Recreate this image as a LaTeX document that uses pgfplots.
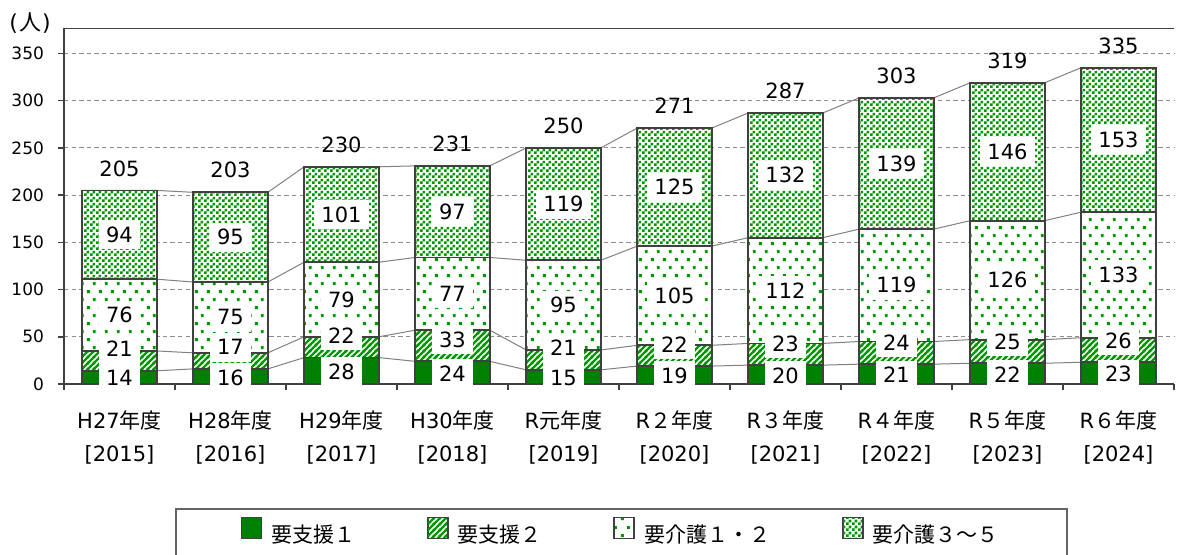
\documentclass[border=0pt]{standalone}
\usepackage{fontspec}
\setmainfont{DejaVu Sans}
\newfontfamily\jp{Noto Sans CJK JP}
\usepackage{pgfplots}
\pgfplotsset{compat=1.18}
\usetikzlibrary{patterns.meta}

\definecolor{gsolid}{RGB}{0,128,0}
\definecolor{gpat}{RGB}{0,150,0}
\definecolor{edge}{RGB}{64,64,64}
\definecolor{gridc}{RGB}{140,140,140}
\definecolor{conn}{RGB}{128,128,128}
\definecolor{legc}{RGB}{100,100,100}

\pgfdeclarepattern{
  name=chk, type=uncolored,
  bottom left={\pgfpoint{0pt}{0pt}}, top right={\pgfpoint{2.8pt}{2.8pt}},
  tile size={\pgfpoint{2.8pt}{2.8pt}},
  code={
    \pgfpathrectangle{\pgfpoint{0pt}{0pt}}{\pgfpoint{1.4pt}{1.4pt}}
    \pgfpathrectangle{\pgfpoint{1.4pt}{1.4pt}}{\pgfpoint{1.4pt}{1.4pt}}
    \pgfusepath{fill}
  }
}
\pgfdeclarepattern{
  name=dts, type=uncolored,
  bottom left={\pgfpoint{0pt}{0pt}}, top right={\pgfpoint{6.2pt}{8.2pt}},
  tile size={\pgfpoint{6.2pt}{8.2pt}},
  code={
    \pgfpathrectangle{\pgfpoint{0.5pt}{0.5pt}}{\pgfpoint{1.5pt}{1.5pt}}
    \pgfpathrectangle{\pgfpoint{3.6pt}{4.6pt}}{\pgfpoint{1.5pt}{1.5pt}}
    \pgfusepath{fill}
  }
}
\pgfdeclarepattern{
  name=hat, type=uncolored,
  bottom left={\pgfpoint{0pt}{0pt}}, top right={\pgfpoint{3.2pt}{3.2pt}},
  tile size={\pgfpoint{3.2pt}{3.2pt}},
  code={
    \pgfsetlinewidth{1.3pt}
    \pgfpathmoveto{\pgfpoint{-1pt}{-1pt}}\pgfpathlineto{\pgfpoint{4.2pt}{4.2pt}}
    \pgfpathmoveto{\pgfpoint{-1pt}{2.2pt}}\pgfpathlineto{\pgfpoint{1pt}{4.2pt}}
    \pgfpathmoveto{\pgfpoint{2.2pt}{-1pt}}\pgfpathlineto{\pgfpoint{4.2pt}{1pt}}
    \pgfusepath{stroke}
  }
}

\pgfplotsset{base/.style={width=555pt,height=178pt,scale only axis,
  at={(32pt,85pt)},anchor=south west,xmin=-0.5,xmax=9.5,ymin=0,ymax=377},
  lab/.style={every node near coord/.append style={anchor=center,fill=white,inner xsep=3.6pt,inner ysep=0pt,minimum height=14.5pt,font=\fontsize{10.5}{12}\selectfont,text=black}}}

\begin{document}
\begin{tikzpicture}
\useasboundingbox (0,0) rectangle (588.5pt,277pt);
% background: grid, boundary ticks, connector lines
\begin{axis}[base,
  axis x line*=bottom, axis y line*=left, axis line style={draw=none},
  tick pos=left, tick align=outside, major tick length=3pt,
  xtick={-0.5,0.5,...,9.5}, xticklabels={},
  ytick={50,100,...,350}, yticklabels={}, ytick style={draw=none},
  xtick style={draw=edge,line width=0.9pt},
  ymajorgrids, grid style={draw=gridc,line width=0.5pt,dash pattern=on 2.2pt off 1.6pt}]
\addplot[conn,line width=0.5pt] coordinates {(-0.336,14) (0.336,14) (0.664,16) (1.336,16) (1.664,28) (2.336,28) (2.664,24) (3.336,24) (3.664,15) (4.336,15) (4.664,19) (5.336,19) (5.664,20) (6.336,20) (6.664,21) (7.336,21) (7.664,22) (8.336,22) (8.664,23) (9.336,23)};
\addplot[conn,line width=0.5pt] coordinates {(-0.336,35) (0.336,35) (0.664,33) (1.336,33) (1.664,50) (2.336,50) (2.664,57) (3.336,57) (3.664,36) (4.336,36) (4.664,41) (5.336,41) (5.664,43) (6.336,43) (6.664,45) (7.336,45) (7.664,47) (8.336,47) (8.664,49) (9.336,49)};
\addplot[conn,line width=0.5pt] coordinates {(-0.336,111) (0.336,111) (0.664,108) (1.336,108) (1.664,129) (2.336,129) (2.664,134) (3.336,134) (3.664,131) (4.336,131) (4.664,146) (5.336,146) (5.664,155) (6.336,155) (6.664,164) (7.336,164) (7.664,173) (8.336,173) (8.664,182) (9.336,182)};
\addplot[conn,line width=0.5pt] coordinates {(-0.336,205) (0.336,205) (0.664,203) (1.336,203) (1.664,230) (2.336,230) (2.664,231) (3.336,231) (3.664,250) (4.336,250) (4.664,271) (5.336,271) (5.664,287) (6.336,287) (6.664,303) (7.336,303) (7.664,319) (8.336,319) (8.664,335) (9.336,335)};
\end{axis}
% bars
\begin{axis}[base, ybar stacked, bar width=0.672,
  axis x line*=bottom, axis y line*=left, axis line style={-,draw=edge,line width=0.9pt},
  tick pos=left, tick align=outside, major tick length=3pt,
  xtick={0,...,9}, xtick style={draw=none},
  xticklabels={{H27{\jp 年度}\\{}[2015]},{H28{\jp 年度}\\{}[2016]},{H29{\jp 年度}\\{}[2017]},{H30{\jp 年度}\\{}[2018]},{R{\jp 元年度}\\{}[2019]},{R{\jp ２年度}\\{}[2020]},{R{\jp ３年度}\\{}[2021]},{R{\jp ４年度}\\{}[2022]},{R{\jp ５年度}\\{}[2023]},{R{\jp ６年度}\\{}[2024]}},
  xticklabel style={align=center,font=\fontsize{10.5}{16.5}\selectfont,yshift=-7pt},
  ytick={0,50,...,350}, ytick style={draw=edge,line width=0.75pt},
  yticklabel style={font=\fontsize{8.5}{10}\selectfont,xshift=-3.5pt},
  /pgf/number format/assume math mode=true,
  legend columns=4, legend cell align=left,
  legend style={at={(axis description cs:0.5023,-0.348)},anchor=north,draw=legc,line width=0.9pt,
    font=\fontsize{10.5}{12}\selectfont\jp,inner xsep=32.3pt,inner ysep=4pt,
    /tikz/every even column/.append style={column sep=34pt}},
  legend image code/.code={\draw[#1,line width=0.6pt] (0pt,-1.5pt) rectangle (10pt,9pt); \path (12.5pt,0pt);},
]
\addplot[fill=gsolid,draw=edge,line width=0.9pt] coordinates {(0,14) (1,16) (2,28) (3,24) (4,15) (5,19) (6,20) (7,21) (8,22) (9,23)};
\addlegendentry{要支援１}
\addplot[preaction={fill=white},pattern=hat,pattern color=gpat,draw=edge,line width=0.9pt] coordinates {(0,21) (1,17) (2,22) (3,33) (4,21) (5,22) (6,23) (7,24) (8,25) (9,26)};
\addlegendentry{要支援２}
\addplot[preaction={fill=white},pattern=dts,pattern color=gpat,draw=edge,line width=0.9pt] coordinates {(0,76) (1,75) (2,79) (3,77) (4,95) (5,105) (6,112) (7,119) (8,126) (9,133)};
\addlegendentry{要介護１・２}
\addplot[preaction={fill=white},pattern=chk,pattern color=gpat,draw=edge,line width=0.9pt] coordinates {(0,94) (1,95) (2,101) (3,97) (4,119) (5,125) (6,132) (7,139) (8,146) (9,153)};
\addlegendentry{要介護３～５}
\draw[edge,line width=0.9pt] (rel axis cs:0,1) -- (rel axis cs:1,1);
\end{axis}
% labels
\begin{axis}[base, hide axis, clip=false, point meta=explicit symbolic]
\addplot[draw=none,mark=none,nodes near coords,lab]
  coordinates {(0,6)[14] (1,7)[16] (2,13)[28] (3,11)[24] (4,6.5)[15] (5,8.5)[19] (6,9)[20] (7,9.5)[21] (8,10)[22] (9,10.5)[23]};
\addplot[draw=none,mark=none,nodes near coords,lab]
  coordinates {(0,37)[21] (1,39)[17] (2,51)[22] (3,47)[33] (4,38)[21] (5,42)[22] (6,43)[23] (7,44)[24] (8,45)[25] (9,46)[26]};
\addplot[draw=none,mark=none,nodes near coords,lab]
  coordinates {(0,73)[76] (1,70.5)[75] (2,89.5)[79] (3,95.5)[77] (4,83.5)[95] (5,93.5)[105] (6,99)[112] (7,104.5)[119] (8,110)[126] (9,115.5)[133]};
\addplot[draw=none,mark=none,nodes near coords,lab]
  coordinates {(0,158)[94] (1,155.5)[95] (2,179.5)[101] (3,182.5)[97] (4,190.5)[119] (5,208.5)[125] (6,221)[132] (7,233.5)[139] (8,246)[146] (9,258.5)[153]};
\addplot[draw=none,mark=none,nodes near coords,
  every node near coord/.append style={anchor=center,yshift=11pt,font=\fontsize{10.5}{12}\selectfont,text=black}]
  coordinates {(0,205)[205] (1,203)[203] (2,230)[230] (3,231)[231] (4,250)[250] (5,271)[271] (6,287)[287] (7,303)[303] (8,319)[319] (9,335)[335]};
\node[font=\fontsize{11}{12}\selectfont] at (rel axis cs:-0.0306,1.014) {(\kern0.5pt{\jp 人}\kern0.5pt)};
\end{axis}
\end{tikzpicture}
\end{document}
